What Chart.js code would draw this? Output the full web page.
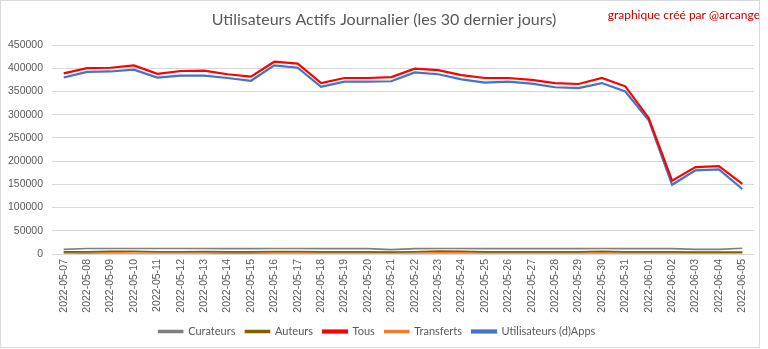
<!DOCTYPE html>
<html>
<head>
<meta charset="utf-8">
<script src="https://cdn.jsdelivr.net/npm/chart.js@4/dist/chart.umd.min.js"></script>
<style>
  html, body { margin: 0; padding: 0; background: #fff; }
  #wrap { position: relative; width: 768px; height: 349px; }
  #frame { position: absolute; left: 0; top: 0; width: 758px; height: 346px; border: 1px solid #d9d9d9; pointer-events: none; }
</style>
</head>
<body>
<div id="wrap">
  <canvas id="chart" width="768" height="349"></canvas>
  <div id="frame"></div>
</div>
<script>
// =================== DATA ===================
const labels = [
  "2022-05-07", "2022-05-08", "2022-05-09", "2022-05-10", "2022-05-11", "2022-05-12",
  "2022-05-13", "2022-05-14", "2022-05-15", "2022-05-16", "2022-05-17", "2022-05-18",
  "2022-05-19", "2022-05-20", "2022-05-21", "2022-05-22", "2022-05-23", "2022-05-24",
  "2022-05-25", "2022-05-26", "2022-05-27", "2022-05-28", "2022-05-29", "2022-05-30",
  "2022-05-31", "2022-06-01", "2022-06-02", "2022-06-03", "2022-06-04", "2022-06-05"
];

const curateurs = [
  10000, 12000, 12000, 12000, 12000, 12000, 12000, 11500, 11500, 12000,
  12000, 11500, 11500, 11500, 9500, 11500, 12000, 12000, 11500, 11500,
  11500, 11500, 11500, 12000, 11500, 11500, 11500, 10000, 10000, 12500
];

const auteurs = [
  4500, 4500, 6000, 6000, 5000, 5000, 5500, 4500, 4500, 5500,
  5500, 4500, 4500, 4500, 4000, 5000, 6500, 6000, 4500, 4500,
  4500, 4500, 4500, 6000, 4500, 4500, 4500, 4000, 4000, 4000
];

const tous = [
  389000, 400000, 401000, 406000, 388000, 394000, 395000, 387000, 382000, 414000,
  410000, 368000, 379000, 379000, 381000, 399000, 396000, 385000, 379000, 379000,
  375000, 368000, 366000, 379000, 361000, 293000, 158000, 187000, 189000, 151000
];

const transferts = [
  2500, 1500, 3000, 2000, 2000, 2000, 2000, 1500, 1500, 2500,
  2500, 2000, 2000, 2000, 2000, 2000, 2500, 2500, 2000, 2000,
  2000, 2000, 2000, 2500, 2000, 2000, 2000, 2000, 2000, 2000
];

const dapps = [
  380000, 392000, 393000, 397000, 380000, 384000, 384000, 379000, 373000, 406000,
  401000, 360000, 371000, 371000, 372000, 391000, 387000, 376000, 369000, 371000,
  367000, 359000, 357000, 368000, 350000, 288000, 149000, 180000, 182000, 140000
];

const yTicks = [0, 50000, 100000, 150000, 200000, 250000, 300000, 350000, 400000, 450000];

// =================== STYLE ===================
const FONT = "Lato, 'Liberation Sans', sans-serif";
const TICKFONT = "'Liberation Sans', sans-serif";
const TEXT = "#595959";

function series(label, data, color, width) {
  return {
    label: label,
    data: data,
    borderColor: color,
    backgroundColor: color,
    borderWidth: width,
    pointRadius: 0,
    pointHoverRadius: 0,
    tension: 0,
    fill: false
  };
}

// title + watermark drawn on the canvas
const headerPlugin = {
  id: "header",
  afterDraw(chart) {
    const ctx = chart.ctx;
    ctx.save();
    ctx.textBaseline = "middle";
    ctx.fillStyle = TEXT;
    ctx.font = "16px " + FONT;
    ctx.textAlign = "center";
    ctx.fillText("Utilisateurs Actifs Journalier (les 30 dernier jours)", 384, 20);
    ctx.fillStyle = "#c00000";
    ctx.font = "12px " + FONT;
    ctx.textAlign = "right";
    ctx.fillText("graphique créé par @arcange", 760, 15);
    ctx.restore();
  }
};

// =================== CHART ===================
new Chart(document.getElementById("chart"), {
  type: "line",
  data: {
    labels: labels,
    datasets: [
      series("Curateurs", curateurs, "#7f7f7f", 1.6),
      series("Auteurs", auteurs, "#7f6000", 1.6),
      series("Tous", tous, "#ff0000", 2.2),
      series("Transferts", transferts, "#ed7d31", 1.6),
      series("Utilisateurs (d)Apps", dapps, "#4472c4", 2.2)
    ]
  },
  options: {
    responsive: false,
    animation: false,
    layout: { padding: { left: 0, right: 14, top: 45, bottom: 2 } },
    plugins: {
      title: { display: false },
      tooltip: { enabled: false },
      legend: {
        position: "bottom",
        labels: {
          color: TEXT,
          font: { family: FONT, size: 11 },
          boxWidth: 24,
          boxHeight: 2,
          padding: 10
        }
      }
    },
    scales: {
      x: {
        offset: true,
        grid: { display: false, drawTicks: false },
        border: { display: false },
        ticks: {
          color: TEXT,
          font: { family: TICKFONT, size: 10.5 },
          minRotation: 90,
          maxRotation: 90,
          autoSkip: false,
          padding: 5
        },
        afterFit(scale) { scale.height = 62; }
      },
      y: {
        min: 0,
        max: 450000,
        afterBuildTicks(scale) { scale.ticks = yTicks.map(v => ({ value: v })); },
        grid: { color: "#d9d9d9", drawTicks: false },
        border: { display: false },
        ticks: {
          color: TEXT,
          font: { family: TICKFONT, size: 10.5 },
          padding: 9,
          callback: v => String(v)
        },
        afterFit(scale) { scale.width = 52; }
      }
    }
  },
  plugins: [headerPlugin]
});
</script>
</body>
</html>
